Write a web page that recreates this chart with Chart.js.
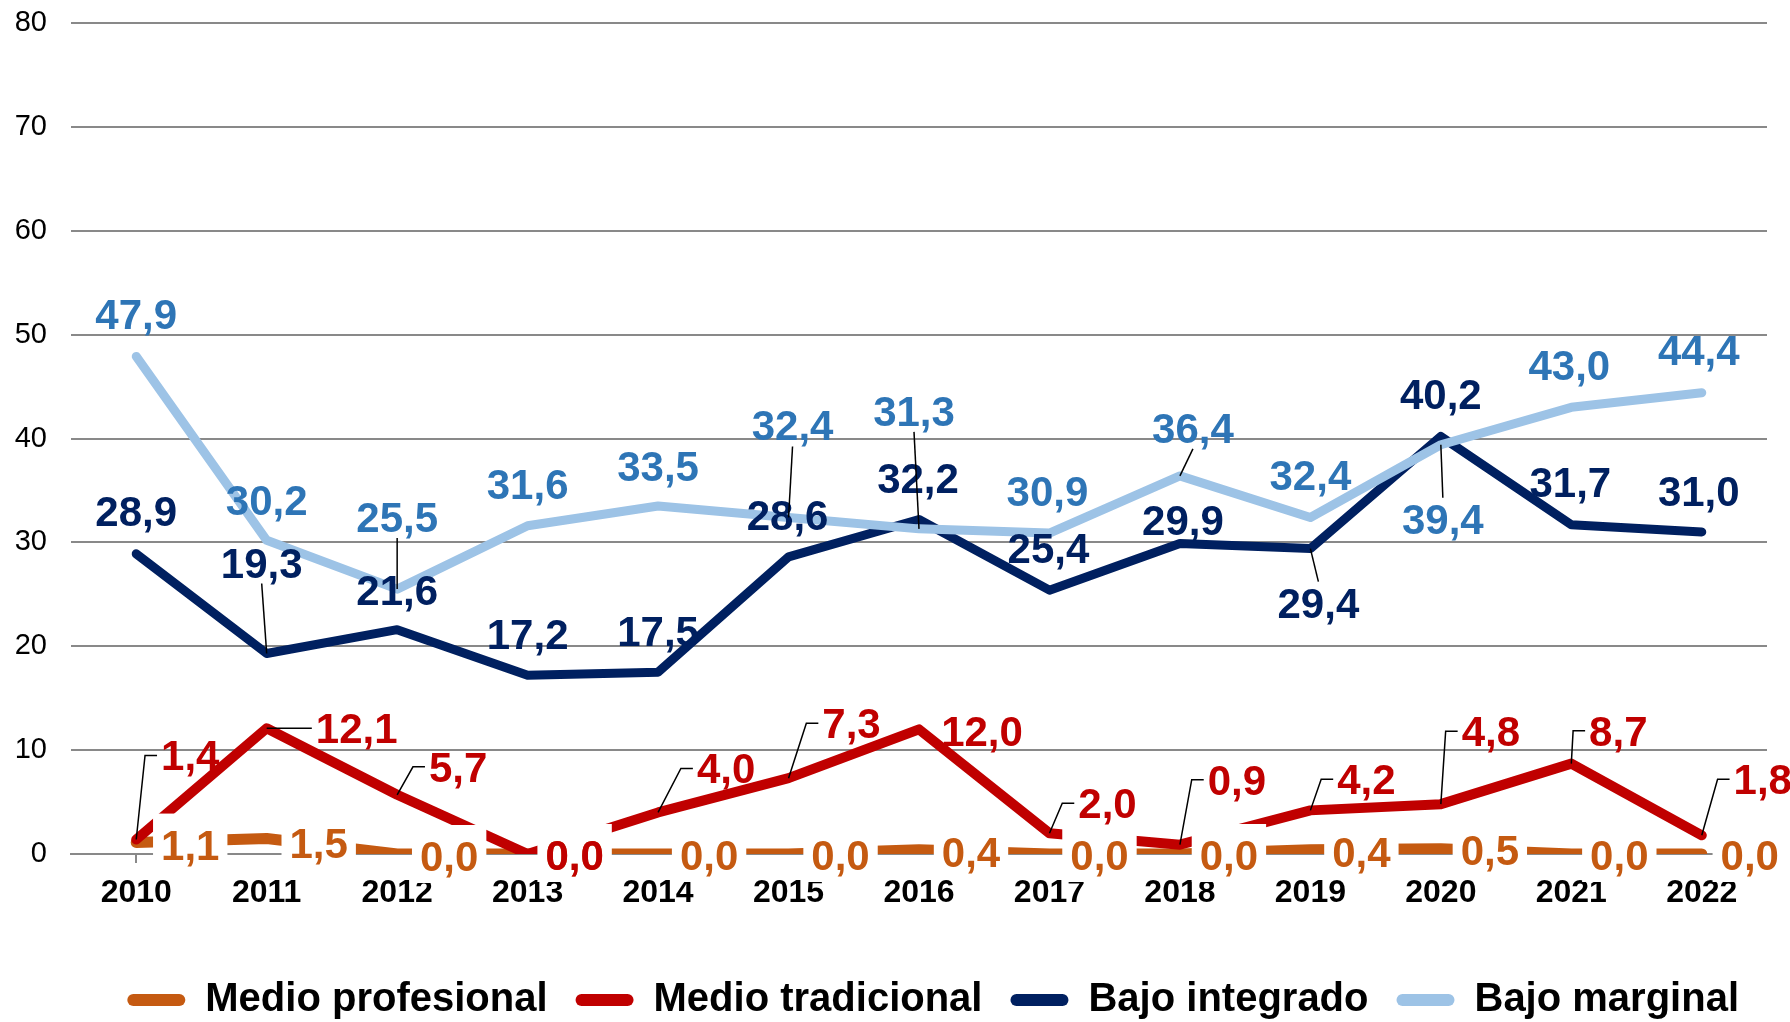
<!DOCTYPE html>
<html>
<head>
<meta charset="utf-8">
<script src="https://cdn.jsdelivr.net/npm/chart.js@4.4.1/dist/chart.umd.min.js"></script>
<style>
  html, body { margin: 0; padding: 0; background: #fff; }
</style>
</head>
<body>
<canvas id="lineChart" width="1790" height="1022"></canvas>
<script>
var years = ['2010','2011','2012','2013','2014','2015','2016','2017','2018','2019','2020','2021','2022'];
var medioProfesional = [1.1, 1.5, 0.0, 0.0, 0.0, 0.0, 0.4, 0.0, 0.0, 0.4, 0.5, 0.0, 0.0];
var medioTradicional = [1.4, 12.1, 5.7, 0.0, 4.0, 7.3, 12.0, 2.0, 0.9, 4.2, 4.8, 8.7, 1.8];
var bajoIntegrado = [28.9, 19.3, 21.6, 17.2, 17.5, 28.6, 32.2, 25.4, 29.9, 29.4, 40.2, 31.7, 31.0];
var bajoMarginal = [47.9, 30.2, 25.5, 31.6, 33.5, 32.4, 31.3, 30.9, 36.4, 32.4, 39.4, 43.0, 44.4];
var yTicks = [0, 10, 20, 30, 40, 50, 60, 70, 80];

var FONT = '"Liberation Sans", Arial, sans-serif';

// where each value label sits relative to its point: [dx, dy, leader]
var labelSpots = [
  [[54,2],[52,5],[52,2],[47,1],[51,1],[52,1],[52,2],[50,1],[49,1],[51,2],[49,1],[48,1],[48,1]],
  [[54,-84,'L'],[90,0,'L'],[61,-28,'L'],[47,1],[68,-44,'L'],[63,-55,'L'],[63,2],[58,-30,'L'],[57,-65,'L'],[56,-31,'L'],[50,-73,'L'],[47,-33,'L'],[61,-56,'L']],
  [[0,-43],[-5,-91,'B'],[0,-40],[0,-41],[0,-41],[-1,-42],[-1,-42],[-1,-42],[3,-23],[8,54,'T'],[0,-42],[-1,-43],[-3,-41]],
  [[0,-42],[0,-40],[0,-72,'B'],[0,-42],[0,-40],[4,-92,'B'],[-5,-118,'B'],[-2,-42],[13,-48,'B'],[0,-42],[2,74,'T'],[-2,-42],[-3,-43]]
];

var valueLabels = {
  id: 'valueLabels',
  afterDatasetsDraw: function(chart) {
    var ctx = chart.ctx;
    ctx.save();
    ctx.font = 'bold 42px ' + FONT;
    ctx.textAlign = 'center';
    ctx.textBaseline = 'alphabetic';
    chart.data.datasets.forEach(function(ds, di) {
      var meta = chart.getDatasetMeta(di);
      meta.data.forEach(function(pt, i) {
        var s = labelSpots[di][i];
        var text = ds.data[i].toFixed(1).replace('.', ',');
        var cx = pt.x + s[0], cy = pt.y + s[1];
        var w = ctx.measureText(text).width;
        var x0 = cx - w / 2 - 8, x1 = cx + w / 2 + 8;
        var y0 = cy - 21, y1 = cy + 21;
        if (ds.labelBox) {
          ctx.fillStyle = '#fff';
          ctx.fillRect(x0, cy - 31, x1 - x0, 58);
        }
        if (s[2]) {
          ctx.strokeStyle = '#000';
          ctx.lineWidth = 1.5;
          ctx.beginPath();
          if (s[2] === 'L') {
            ctx.moveTo(x0 + 4, cy);
            ctx.lineTo(x0 - 8, cy);
            ctx.lineTo(pt.x, pt.y);
          } else if (s[2] === 'B') {
            ctx.moveTo(cx, y1);
            ctx.lineTo(pt.x, pt.y);
          } else {
            ctx.moveTo(cx, y0);
            ctx.lineTo(pt.x, pt.y);
          }
          ctx.stroke();
        }
        ctx.fillStyle = ds.labelColor;
        ctx.fillText(text, cx, cy + 15);
      });
    });
    ctx.restore();
  }
};

var ctx = document.getElementById('lineChart').getContext('2d');
var lineChart = new Chart(ctx, {
  type: 'line',
  data: {
    labels: years,
    datasets: [{
      label: 'Medio profesional',
      data: medioProfesional,
      borderColor: '#C55A11',
      borderWidth: 11,
      labelColor: '#C55A11',
      labelBox: true,
      order: 4
    }, {
      label: 'Medio tradicional',
      data: medioTradicional,
      borderColor: '#C00000',
      borderWidth: 10,
      labelColor: '#C00000',
      order: 3
    }, {
      label: 'Bajo integrado',
      data: bajoIntegrado,
      borderColor: '#002060',
      borderWidth: 9,
      labelColor: '#002060',
      order: 2
    }, {
      label: 'Bajo marginal',
      data: bajoMarginal,
      borderColor: '#9DC3E6',
      borderWidth: 9,
      labelColor: '#2E75B6',
      order: 1
    }]
  },
  options: {
    responsive: false,
    animation: false,
    events: [],
    elements: {
      point: { radius: 0 },
      line: { tension: 0, borderJoinStyle: 'round', borderCapStyle: 'round', fill: false }
    },
    layout: { padding: { top: 23, right: 23, bottom: -8, left: 0 } },
    scales: {
      x: {
        offset: true,
        grid: {
          drawOnChartArea: false,
          tickLength: 9,
          lineWidth: 2,
          color: function(c) {
            return (c.index === 0 || c.index === years.length) ? '#898989' : 'rgba(0,0,0,0)';
          }
        },
        border: { color: '#898989', width: 2 },
        ticks: {
          color: '#000',
          padding: 11,
          font: { family: FONT, size: 32, weight: 'bold' }
        },
        afterFit: function(scale) { scale.height = 98; }
      },
      y: {
        min: 0,
        max: 80,
        afterBuildTicks: function(scale) {
          scale.ticks = yTicks.map(function(v) { return { value: v }; });
        },
        grid: { color: '#898989', lineWidth: 2, drawTicks: true, tickLength: 24, tickColor: 'rgba(0,0,0,0)' },
        border: { display: false },
        ticks: {
          color: '#000',
          padding: 0,
          font: { family: FONT, size: 29 }
        },
        afterFit: function(scale) { scale.width = 71; }
      }
    },
    plugins: {
      tooltip: { enabled: false },
      legend: {
        position: 'bottom',
        align: 'end',
        labels: {
          color: '#000',
          font: { family: FONT, size: 40, weight: 'bold' },
          boxWidth: 58,
          boxHeight: 12,
          useBorderRadius: true,
          borderRadius: 6,
          padding: 28,
          generateLabels: function(chart) {
            return chart.data.datasets.map(function(ds, i) {
              return {
                text: ds.label,
                fillStyle: ds.borderColor,
                strokeStyle: ds.borderColor,
                lineWidth: 0,
                borderRadius: 6,
                datasetIndex: i,
                hidden: false
              };
            });
          }
        }
      }
    }
  },
  plugins: [valueLabels]
});
</script>
</body>
</html>
